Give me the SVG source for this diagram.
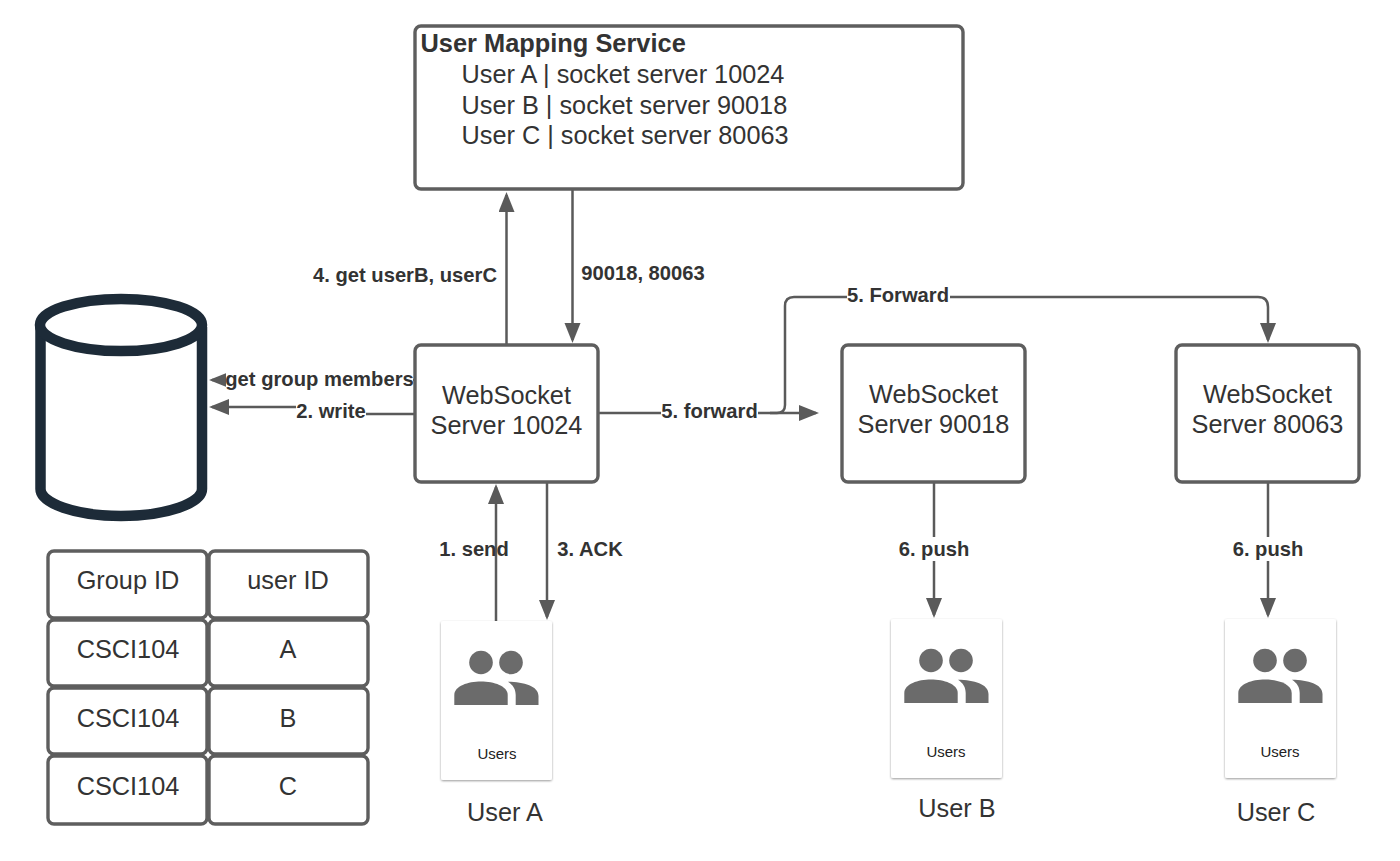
<svg xmlns="http://www.w3.org/2000/svg" width="1400" height="861" viewBox="0 0 1400 861">
<style>
text{font-family:"Liberation Sans",Arial,sans-serif;fill:#333}
.box{fill:#fff;stroke:#5e5e5e;stroke-width:3.4}
.n{font-size:25.3px;text-anchor:middle}
.l{font-size:20.2px;font-weight:bold;text-anchor:middle}
.b{font-size:25.3px}
.c{fill:none;stroke:#5a5a5a;stroke-width:2.5}
.card{fill:#fff;filter:url(#sh)}
.ic{fill:#6b6b6b}
.u{font-size:15px;text-anchor:middle;fill:#222}
.bg{fill:#fff}
</style>
<defs>
<marker id="a" markerUnits="userSpaceOnUse" markerWidth="24" markerHeight="18" refX="17" refY="8" orient="auto"><path d="M0 0L20 8L0 16Z" fill="#5a5a5a"/></marker>
<filter id="sh" x="-10%" y="-10%" width="120%" height="120%"><feDropShadow dx="0" dy="1" stdDeviation="1.3" flood-color="#000" flood-opacity=".4"/></filter>
<g id="people"><circle cx="481" cy="662.500" r="11.800"/><circle cx="511" cy="662.500" r="11.800"/><path d="M454.300 705V695C454.300 686 468 681.500 481 681.500C494 681.500 507.700 686 507.700 695V705Z"/><path d="M508 681.700C524 682 538.500 686 538.500 696V705H515.700V695C515.700 689 513 685 508 681.700Z"/></g>
</defs>
<rect width="1400" height="861" fill="#fff"/>
<g id="connectors">
<path class="c" d="M506.500 345V195" marker-end="url(#a)"/>
<path class="c" d="M572.500 189V340" marker-end="url(#a)"/>
<path class="c" d="M414 380H212" marker-end="url(#a)"/>
<path class="c" d="M414 414H340V407H212" marker-end="url(#a)"/>
<path class="c" d="M598 413H816" marker-end="url(#a)"/>
<path class="c" d="M770 413H777Q785 413 785 405V306Q785 297 794 297H1258Q1268 297 1268 307V340" marker-end="url(#a)"/>
<path class="c" d="M496 621V487" marker-end="url(#a)"/>
<path class="c" d="M547 483V617" marker-end="url(#a)"/>
<path class="c" d="M934 483V615" marker-end="url(#a)"/>
<path class="c" d="M1268 483V615" marker-end="url(#a)"/>
</g>
<g id="mapping"><rect class="box" x="415" y="26" width="548" height="163" rx="6"/>
<text x="420.500" y="52" font-size="25.400" font-weight="bold">User Mapping Service</text>
<text class="b" x="461.500" y="83">User A | socket server 10024</text>
<text class="b" x="461.500" y="113.500">User B | socket server 90018</text>
<text class="b" x="461.500" y="144">User C | socket server 80063</text></g>
<g id="database"><path d="M40.500 327V489C40.500 503 75 516 121 516C167 516 202 503 202 489V327" fill="#fff" stroke="#1d2b38" stroke-width="10.500"/><ellipse cx="121" cy="325" rx="81" ry="26" fill="#fff" stroke="#1d2b38" stroke-width="10.500"/></g>
<g id="server-10024"><rect class="box" x="415" y="345" width="183" height="137" rx="6"/><text class="n" x="506.500" y="404">WebSocket</text><text class="n" x="506.500" y="434">Server 10024</text></g>
<g id="server-90018"><rect class="box" x="842" y="345" width="183" height="137" rx="6"/><text class="n" x="933.500" y="403">WebSocket</text><text class="n" x="933.500" y="433">Server 90018</text></g>
<g id="server-80063"><rect class="box" x="1176" y="345" width="183" height="137" rx="6"/><text class="n" x="1267.500" y="403">WebSocket</text><text class="n" x="1267.500" y="433">Server 80063</text></g>
<g id="labels">
<rect class="bg" x="314" y="264" width="190" height="24"/><text class="l" x="405" y="282">4. get userB, userC</text>
<rect class="bg" x="579" y="262" width="128" height="24"/><text class="l" x="643" y="280">90018, 80063</text>
<rect class="bg" x="226" y="368" width="187" height="23"/><text class="l" x="319.500" y="386">get group members</text>
<rect class="bg" x="296" y="400" width="70" height="24"/><text class="l" x="331" y="418">2. write</text>
<rect class="bg" x="661" y="400" width="97" height="24"/><text class="l" x="709.500" y="418">5. forward</text>
<rect class="bg" x="847" y="284" width="103" height="24"/><text class="l" x="898" y="302">5. Forward</text>
<text class="l" x="474" y="556">1. send</text>
<rect class="bg" x="556" y="537" width="68" height="24"/><text class="l" x="590" y="556">3. ACK</text>
<rect class="bg" x="898" y="537" width="72" height="24"/><text class="l" x="934" y="556">6. push</text>
<rect class="bg" x="1232" y="537" width="72" height="24"/><text class="l" x="1268" y="556">6. push</text>
</g>
<g id="user-a"><rect class="card" x="441" y="621" width="111" height="159" rx="2"/><use href="#people" class="ic"/><text class="u" x="497" y="759">Users</text><text class="n" x="505" y="821">User A</text></g>
<g id="user-b"><rect class="card" x="891" y="619" width="111" height="159" rx="2"/><use href="#people" class="ic" x="450" y="-2"/><text class="u" x="946" y="757">Users</text><text class="n" x="957" y="817">User B</text></g>
<g id="user-c"><rect class="card" x="1225" y="619" width="111" height="159" rx="2"/><use href="#people" class="ic" x="784" y="-2"/><text class="u" x="1280" y="757">Users</text><text class="n" x="1276" y="821">User C</text></g>
<g id="table">
<rect class="box" x="48" y="551" width="159" height="67" rx="6"/><rect class="box" x="209" y="551" width="159" height="67" rx="6"/>
<rect class="box" x="48" y="620" width="159" height="66" rx="6"/><rect class="box" x="209" y="620" width="159" height="66" rx="6"/>
<rect class="box" x="48" y="688" width="159" height="66" rx="6"/><rect class="box" x="209" y="688" width="159" height="66" rx="6"/>
<rect class="box" x="48" y="756" width="159" height="68" rx="6"/><rect class="box" x="209" y="756" width="159" height="68" rx="6"/>
<text class="n" x="128" y="589">Group ID</text><text class="n" x="288" y="589">user ID</text>
<text class="n" x="128" y="658">CSCI104</text><text class="n" x="288" y="658">A</text>
<text class="n" x="128" y="727">CSCI104</text><text class="n" x="288" y="727">B</text>
<text class="n" x="128" y="795">CSCI104</text><text class="n" x="288" y="795">C</text>
</g>
</svg>
